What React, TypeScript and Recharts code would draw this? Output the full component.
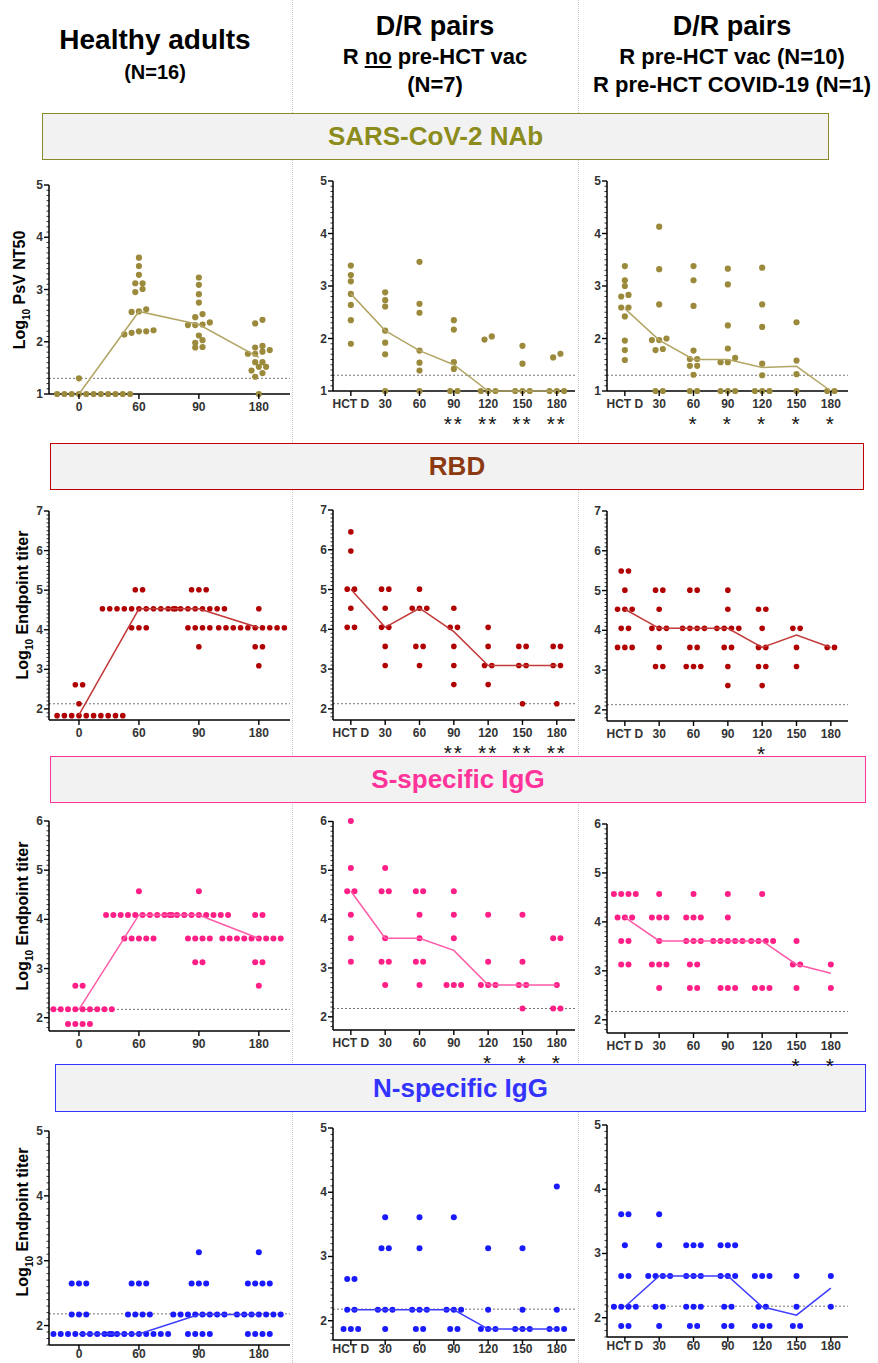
import React from 'react';
import { ScatterChart, Scatter, XAxis, YAxis, ReferenceLine } from 'recharts';

// x categories
const haDays = ['0', '60', '90', '180'];
const hctDays = ['HCT D', '30', '60', '90', '120', '150', '180'];

// SARS-CoV-2 NAb (log10 PsV NT50)
const nabHealthy: number[][] = [
  [1, 1, 1, 1, 1, 1, 1, 1, 1, 1, 1, 1, 1, 1, 1, 1.3],
  [3.61, 3.45, 3.28, 3.12, 3.12, 3.01, 2.95, 2.62, 2.58, 2.57, 2.22, 2.2, 2.2, 2.17, 2.14],
  [3.23, 3.09, 2.91, 2.75, 2.53, 2.47, 2.37, 2.33, 2.32, 2.32, 2.12, 2.03, 1.98, 1.9, 1.89],
  [2.42, 2.35, 1.92, 1.89, 1.84, 1.81, 1.77, 1.77, 1.61, 1.61, 1.52, 1.52, 1.45, 1.4, 1.33, 1.0],
];
const nabHealthyMed = [1.0, 2.58, 2.33, 1.7];
const nabNoVac: number[][] = [
  [3.39, 3.21, 3.09, 2.85, 2.64, 2.35, 1.9],
  [2.88, 2.73, 2.61, 2.15, 1.92, 1.7, 1.0],
  [3.46, 2.66, 2.49, 1.77, 1.54, 1.39, 1.0],
  [2.35, 2.17, 1.55, 1.42, 1.0, 1.0],
  [2.04, 1.98, 1.0, 1.0, 1.0],
  [1.86, 1.52, 1.0, 1.0, 1.0],
  [1.71, 1.64, 1.0, 1.0, 1.0],
];
const nabNoVacMed = [2.85, 2.15, 1.77, 1.5, 1.0, 1.0, 1.0];
const nabVac: number[][] = [
  [3.38, 3.11, 3.0, 2.83, 2.8, 2.59, 2.59, 2.42, 1.96, 1.78, 1.59],
  [4.13, 3.32, 2.65, 2.0, 1.97, 1.97, 1.8, 1.78, 1.0, 1.0],
  [3.38, 3.11, 2.62, 1.77, 1.61, 1.61, 1.48, 1.48, 1.31, 1.0, 1.0],
  [3.33, 3.03, 2.25, 1.81, 1.63, 1.55, 1.55, 1.0, 1.0, 1.0],
  [3.35, 2.65, 2.22, 1.52, 1.3, 1.0, 1.0, 1.0],
  [2.31, 1.58, 1.32, 1.0],
  [1.0, 1.0],
];
const nabVacMed = [2.57, 1.97, 1.6, 1.6, 1.45, 1.47, 1.0];

// RBD (log10 endpoint titer)
const rbdHealthy: number[][] = [
  [1.83, 1.83, 1.83, 1.83, 1.83, 1.83, 1.83, 1.83, 1.83, 1.83, 1.83, 1.83, 1.83, 2.13, 2.61, 2.61],
  [5.01, 5.01, 4.53, 4.53, 4.53, 4.53, 4.53, 4.53, 4.53, 4.53, 4.53, 4.53, 4.53, 4.05, 4.05, 4.05],
  [5.01, 5.01, 5.01, 4.53, 4.53, 4.53, 4.53, 4.53, 4.53, 4.53, 4.53, 4.05, 4.05, 4.05, 4.05, 3.57],
  [4.53, 4.05, 4.05, 4.05, 4.05, 4.05, 4.05, 4.05, 4.05, 4.05, 4.05, 4.05, 4.05, 3.57, 3.57, 3.09],
];
const rbdHealthyMed = [1.85, 4.53, 4.53, 4.05];
const rbdNoVac: number[][] = [
  [6.45, 5.97, 5.01, 5.01, 4.53, 4.05, 4.05],
  [5.01, 5.01, 4.53, 4.05, 4.05, 3.57, 3.09],
  [5.01, 4.53, 4.53, 4.53, 3.57, 3.57, 3.09],
  [4.53, 4.05, 4.05, 3.57, 3.09, 2.61],
  [4.05, 3.57, 3.09, 3.09, 2.61],
  [3.57, 3.57, 3.09, 3.09, 2.13],
  [3.57, 3.57, 3.09, 3.09, 2.13],
];
const rbdNoVacMed = [5.01, 4.05, 4.53, 3.94, 3.09, 3.09, 3.09];
const rbdVac: number[][] = [
  [5.49, 5.49, 5.01, 4.53, 4.53, 4.53, 4.05, 4.05, 3.57, 3.57, 3.57],
  [5.01, 5.01, 4.53, 4.05, 4.05, 4.05, 3.57, 3.09, 3.09],
  [5.01, 5.01, 4.05, 4.05, 4.05, 4.05, 3.57, 3.57, 3.09, 3.09, 3.09],
  [5.01, 4.53, 4.05, 4.05, 4.05, 4.05, 3.57, 3.57, 3.09, 2.61],
  [4.53, 4.53, 4.05, 3.57, 3.57, 3.09, 3.09, 2.61],
  [4.05, 4.05, 3.57, 3.09],
  [3.57, 3.57],
];
const rbdVacMed = [4.53, 4.05, 4.05, 4.05, 3.57, 3.88, 3.57];

// S-specific IgG (log10 endpoint titer)
const sHealthy: number[][] = [
  [2.65, 2.65, 2.17, 2.17, 2.17, 2.17, 2.17, 2.17, 2.17, 2.17, 2.17, 2.17, 1.87, 1.87, 1.87, 1.87],
  [4.57, 4.09, 4.09, 4.09, 4.09, 4.09, 4.09, 4.09, 4.09, 4.09, 4.09, 3.61, 3.61, 3.61, 3.61, 3.61],
  [4.57, 4.09, 4.09, 4.09, 4.09, 4.09, 4.09, 4.09, 4.09, 4.09, 3.61, 3.61, 3.61, 3.61, 3.13, 3.13],
  [4.09, 4.09, 3.61, 3.61, 3.61, 3.61, 3.61, 3.61, 3.61, 3.61, 3.61, 3.61, 3.61, 3.13, 3.13, 2.65],
];
const sHealthyMed = [2.17, 4.09, 4.09, 3.61];
const sNoVac: number[][] = [
  [6.01, 5.05, 4.57, 4.57, 4.09, 3.61, 3.13],
  [5.05, 4.57, 4.57, 3.61, 3.13, 3.13, 2.65],
  [4.57, 4.57, 4.09, 3.61, 3.13, 3.13, 2.65],
  [4.57, 4.09, 3.61, 2.65, 2.65, 2.65],
  [4.09, 3.13, 2.65, 2.65, 2.65],
  [4.09, 3.13, 2.65, 2.65, 2.17],
  [3.61, 3.61, 2.65, 2.17, 2.17],
];
const sNoVacMed = [4.57, 3.61, 3.61, 3.36, 2.65, 2.65, 2.65];
const sVac: number[][] = [
  [4.57, 4.57, 4.57, 4.57, 4.09, 4.09, 4.09, 3.61, 3.61, 3.13, 3.13],
  [4.57, 4.09, 4.09, 4.09, 3.61, 3.13, 3.13, 3.13, 2.65],
  [4.57, 4.09, 4.09, 4.09, 3.61, 3.61, 3.61, 3.13, 3.13, 2.65, 2.65],
  [4.57, 4.09, 3.61, 3.61, 3.61, 3.61, 3.61, 2.65, 2.65, 2.65],
  [4.57, 3.61, 3.61, 3.61, 3.61, 2.65, 2.65, 2.65],
  [3.61, 3.13, 3.13, 2.65],
  [3.13, 2.65],
];
const sVacMed = [4.09, 3.61, 3.61, 3.61, 3.61, 3.13, 2.95];

// N-specific IgG (log10 endpoint titer)
const nHealthy: number[][] = [
  [2.65, 2.65, 2.65, 2.17, 2.17, 2.17, 1.87, 1.87, 1.87, 1.87, 1.87, 1.87, 1.87, 1.87, 1.87, 1.87],
  [2.65, 2.65, 2.65, 2.17, 2.17, 2.17, 2.17, 1.87, 1.87, 1.87, 1.87, 1.87, 1.87, 1.87, 1.87, 1.87],
  [3.13, 2.65, 2.65, 2.65, 2.17, 2.17, 2.17, 2.17, 2.17, 2.17, 2.17, 2.17, 1.87, 1.87, 1.87, 1.87],
  [3.13, 2.65, 2.65, 2.65, 2.65, 2.17, 2.17, 2.17, 2.17, 2.17, 2.17, 2.17, 1.87, 1.87, 1.87, 1.87],
];
const nHealthyMed = [1.87, 1.87, 2.17, 2.17];
const nNoVac: number[][] = [
  [2.65, 2.65, 2.17, 2.17, 1.87, 1.87, 1.87],
  [3.61, 3.13, 3.13, 2.17, 2.17, 2.17, 1.87],
  [3.61, 3.13, 2.17, 2.17, 2.17, 1.87, 1.87],
  [3.61, 2.17, 2.17, 2.17, 1.87, 1.87],
  [3.13, 2.17, 1.87, 1.87, 1.87],
  [3.13, 2.17, 1.87, 1.87, 1.87],
  [4.09, 2.17, 1.87, 1.87, 1.87],
];
const nNoVacMed = [2.17, 2.17, 2.17, 2.17, 1.87, 1.87, 1.87];
const nVac: number[][] = [
  [3.61, 3.61, 3.13, 2.65, 2.65, 2.17, 2.17, 2.17, 2.17, 1.87, 1.87],
  [3.61, 3.13, 2.65, 2.65, 2.65, 2.65, 2.17, 2.17, 1.87],
  [3.13, 3.13, 3.13, 2.65, 2.65, 2.65, 2.17, 2.17, 2.17, 1.87, 1.87],
  [3.13, 3.13, 3.13, 2.65, 2.65, 2.65, 2.17, 2.17, 1.87, 1.87],
  [2.65, 2.65, 2.65, 2.17, 2.17, 1.87, 1.87, 1.87],
  [2.65, 2.17, 1.87, 1.87],
  [2.65, 2.17],
];
const nVacMed = [2.17, 2.65, 2.65, 2.65, 2.17, 2.04, 2.46];

// significance marks under the x ticks
const nabNoVacStars = ['', '', '', '**', '**', '**', '**'];
const nabVacStars = ['', '', '*', '*', '*', '*', '*'];
const rbdNoVacStars = ['', '', '', '**', '**', '**', '**'];
const rbdVacStars = ['', '', '', '', '*', '', ''];
const sNoVacStars = ['', '', '', '', '*', '*', '*'];
const sVacStars = ['', '', '', '', '', '*', '*'];

const YW = 34;
const MT = 8;
const MR = 2;
const XH = 48;
const GAP = 7.3;
const FONT = "'Liberation Sans', Arial, sans-serif";
const NARROW = "'Liberation Sans Narrow', 'Liberation Sans', Arial, sans-serif";

type Rect = { x0: number; x1: number; y0: number; y1: number };

function Panel(props: {
  groups: number[][];
  medians: number[];
  labels: string[];
  stars?: string[];
  dot: string;
  line: string;
  r: number;
  lod: number;
  labelDy: number;
  yDomain: [number, number];
  xDomain: [number, number];
  rect: Rect;
}) {
  const { groups, medians, labels, stars, dot, line, r, lod, labelDy, yDomain, xDomain, rect } = props;
  const w = rect.x1 - rect.x0 + YW + MR;
  const h = rect.y1 - rect.y0 + MT + XH;
  const pxX = (rect.x1 - rect.x0) / (xDomain[1] - xDomain[0]);
  const pxY = (rect.y1 - rect.y0) / (yDomain[1] - yDomain[0]);

  // spread tied values sideways like a column scatter plot
  const points: { x: number; y: number }[] = [];
  groups.forEach((vals, i) => {
    const sorted = [...vals].sort((a, b) => a - b);
    let row: number[] = [];
    const flush = () => {
      row.forEach((v, k) => points.push({ x: i + ((k - (row.length - 1) / 2) * GAP) / pxX, y: v }));
      row = [];
    };
    sorted.forEach((v) => {
      if (row.length && (v - row[0]) * pxY > 4.6) flush();
      row.push(v);
    });
    flush();
  });
  // wide rows run off the plot: drop dots that would cross the axes
  const visible = points.filter((p) => p.x >= xDomain[0] + r / pxX && p.x <= xDomain[1] - r / pxX);
  const medPts = medians.map((m, i) => ({ x: i, y: m }));

  const yTicks: number[] = [];
  for (let k = Math.ceil(yDomain[0] * 10); k <= Math.round(yDomain[1] * 10); k++) yTicks.push(k / 10);
  const xTicks = labels.map((_, i) => i);
  const yb = h - XH;

  const YTick = (p: any) => {
    const v = p.payload.value;
    const major = Math.abs(v - Math.round(v)) < 1e-6;
    return (
      <g>
        <line x1={YW - (major ? 5 : 2.5)} x2={YW} y1={p.y} y2={p.y} stroke="#000" strokeWidth={major ? 1.4 : 0.8} />
        {major && (
          <text x={YW - 6} y={p.y + 4} textAnchor="end" fontSize={12} fontWeight="bold" fontFamily={NARROW} fill="#333">
            {Math.round(v)}
          </text>
        )}
      </g>
    );
  };
  const XTick = (p: any) => {
    const i = p.payload.value;
    return (
      <g>
        <line x1={p.x} x2={p.x} y1={yb} y2={yb + 5} stroke="#000" strokeWidth={1.4} />
        <text x={p.x} y={yb + labelDy} textAnchor="middle" fontSize={12} fontWeight="bold" fontFamily={NARROW} fill="#333">
          {labels[i]}
        </text>
        {stars && stars[i] ? (
          <text x={p.x} y={yb + 40} textAnchor="middle" fontSize={21} fontFamily={FONT} fill="#111" letterSpacing={2}>
            {stars[i]}
          </text>
        ) : null}
      </g>
    );
  };

  return (
    <div style={{ position: 'absolute', left: rect.x0 - YW, top: rect.y0 - MT }}>
      <ScatterChart width={w} height={h} margin={{ top: MT, right: MR, left: 0, bottom: 0 }}>
        <XAxis
          type="number"
          dataKey="x"
          domain={xDomain}
          ticks={xTicks}
          interval={0}
          height={XH}
          tickLine={false}
          tick={XTick}
          axisLine={{ stroke: '#000', strokeWidth: 1.5 }}
        />
        <YAxis
          type="number"
          dataKey="y"
          domain={yDomain}
          ticks={yTicks}
          interval={0}
          width={YW}
          tickLine={false}
          tick={YTick}
          axisLine={{ stroke: '#000', strokeWidth: 1.5 }}
        />
        <ReferenceLine y={lod} stroke="#777" strokeDasharray="2 2" strokeWidth={1} />
        <Scatter
          data={visible}
          isAnimationActive={false}
          shape={(s: any) => <circle cx={s.cx} cy={s.cy} r={r} fill={dot} />}
        />
        <Scatter
          data={medPts}
          isAnimationActive={false}
          line={{ stroke: line, strokeWidth: 1.5 }}
          shape={() => <g />}
        />
      </ScatterChart>
    </div>
  );
}

const cols = [
  { x0: 49, x1: 290, xDomain: [-0.5, 3.52] as [number, number], labels: haDays },
  { x0: 333, x1: 575, xDomain: [-0.52, 6.53] as [number, number], labels: hctDays },
  { x0: 607, x1: 848, xDomain: [-0.52, 6.5] as [number, number], labels: hctDays },
];

const rows = [
  {
    yDomain: [1, 5] as [number, number], lod: 1.3, dot: '#9c8a3c', line: '#b3a564', r: 3.1, labelDy: 17,
    ys: [[185, 394], [181, 391], [181, 391]],
    sets: [[nabHealthy, nabHealthyMed, undefined], [nabNoVac, nabNoVacMed, nabNoVacStars], [nabVac, nabVacMed, nabVacStars]],
  },
  {
    yDomain: [1.72, 7] as [number, number], lod: 2.13, dot: '#b00000', line: '#c23a3a', r: 2.8, labelDy: 17,
    ys: [[511, 720], [510, 720], [511, 721]],
    sets: [[rbdHealthy, rbdHealthyMed, undefined], [rbdNoVac, rbdNoVacMed, rbdNoVacStars], [rbdVac, rbdVacMed, rbdVacStars]],
  },
  {
    yDomain: [1.73, 6] as [number, number], lod: 2.17, dot: '#ff1f86', line: '#ff5aa6', r: 3, labelDy: 17,
    ys: [[821, 1031], [821, 1030], [824, 1033]],
    sets: [[sHealthy, sHealthyMed, undefined], [sNoVac, sNoVacMed, sNoVacStars], [sVac, sVacMed, sVacStars]],
  },
  {
    yDomain: [1.7, 5] as [number, number], lod: 2.18, dot: '#1a1aff', line: '#3c3cff', r: 3, labelDy: 13,
    ys: [[1131, 1345], [1128, 1340], [1125, 1337]],
    sets: [[nHealthy, nHealthyMed, undefined], [nNoVac, nNoVacMed, undefined], [nVac, nVacMed, undefined]],
  },
];

const banners = [
  { text: 'SARS-CoV-2 NAb', left: 42, top: 113, width: 787, height: 47, border: '#8a8a2a', color: '#8c8c1c' },
  { text: 'RBD', left: 50, top: 443, width: 814, height: 47, border: '#c00000', color: '#8b3a12' },
  { text: 'S-specific IgG', left: 50, top: 756, width: 816, height: 47, border: '#ff3399', color: '#ff3399' },
  { text: 'N-specific IgG', left: 55, top: 1064, width: 811, height: 48, border: '#3333ff', color: '#3333ff' },
];

const yLabels = [
  { text: 'PsV NT50', x: 22, y: 290 },
  { text: 'Endpoint titer', x: 25, y: 605 },
  { text: 'Endpoint titer', x: 25, y: 916 },
  { text: 'Endpoint titer', x: 25, y: 1222 },
];

const centered = (cx: number, cy: number, size: number): React.CSSProperties => ({
  position: 'absolute',
  left: cx,
  top: cy,
  transform: 'translate(-50%, -50%)',
  whiteSpace: 'nowrap',
  fontSize: size,
  fontWeight: 'bold',
  color: '#000',
  lineHeight: 1,
});

export default function App() {
  return (
    <div style={{ position: 'relative', width: 878, height: 1363, background: '#fff', fontFamily: FONT, overflow: 'hidden' }}>
      <style>{'body{margin:0}'}</style>
      {[292, 578].map((x) => (
        <div key={x} style={{ position: 'absolute', left: x, top: 0, height: 1363, borderLeft: '1px dotted #c8c8c8' }} />
      ))}

      <div style={centered(155, 40, 28)}>Healthy adults</div>
      <div style={centered(155, 72, 20)}>(N=16)</div>
      <div style={centered(435, 26, 27)}>D/R pairs</div>
      <div style={centered(435, 57, 22)}>
        R <span style={{ textDecoration: 'underline' }}>no</span> pre-HCT vac
      </div>
      <div style={centered(435, 85, 22)}>(N=7)</div>
      <div style={centered(732, 26, 27)}>D/R pairs</div>
      <div style={centered(732, 57, 22)}>R pre-HCT vac (N=10)</div>
      <div style={centered(732, 85, 22)}>R pre-HCT COVID-19 (N=1)</div>

      {banners.map((b) => (
        <div
          key={b.text}
          style={{
            position: 'absolute', left: b.left, top: b.top, width: b.width, height: b.height,
            boxSizing: 'border-box', border: `1.5px solid ${b.border}`, background: '#f2f2f2',
            display: 'flex', alignItems: 'center', justifyContent: 'center',
            color: b.color, fontSize: 26, fontWeight: 'bold',
          }}
        >
          {b.text}
        </div>
      ))}

      {yLabels.map((l, i) => (
        <div key={i} style={{ ...centered(l.x, l.y, 16), transform: 'translate(-50%, -50%) rotate(-90deg)' }}>
          Log<sub style={{ fontSize: 10 }}>10</sub> {l.text}
        </div>
      ))}

      {rows.map((row, ri) =>
        cols.map((col, ci) => {
          const [groups, medians, stars] = row.sets[ci] as [number[][], number[], string[] | undefined];
          return (
            <Panel
              key={`${ri}-${ci}`}
              groups={groups}
              medians={medians}
              stars={stars}
              labels={col.labels}
              dot={row.dot}
              line={row.line}
              r={row.r}
              lod={row.lod}
              labelDy={row.labelDy}
              yDomain={row.yDomain}
              xDomain={col.xDomain}
              rect={{ x0: col.x0, x1: col.x1, y0: row.ys[ci][0], y1: row.ys[ci][1] }}
            />
          );
        })
      )}
    </div>
  );
}
